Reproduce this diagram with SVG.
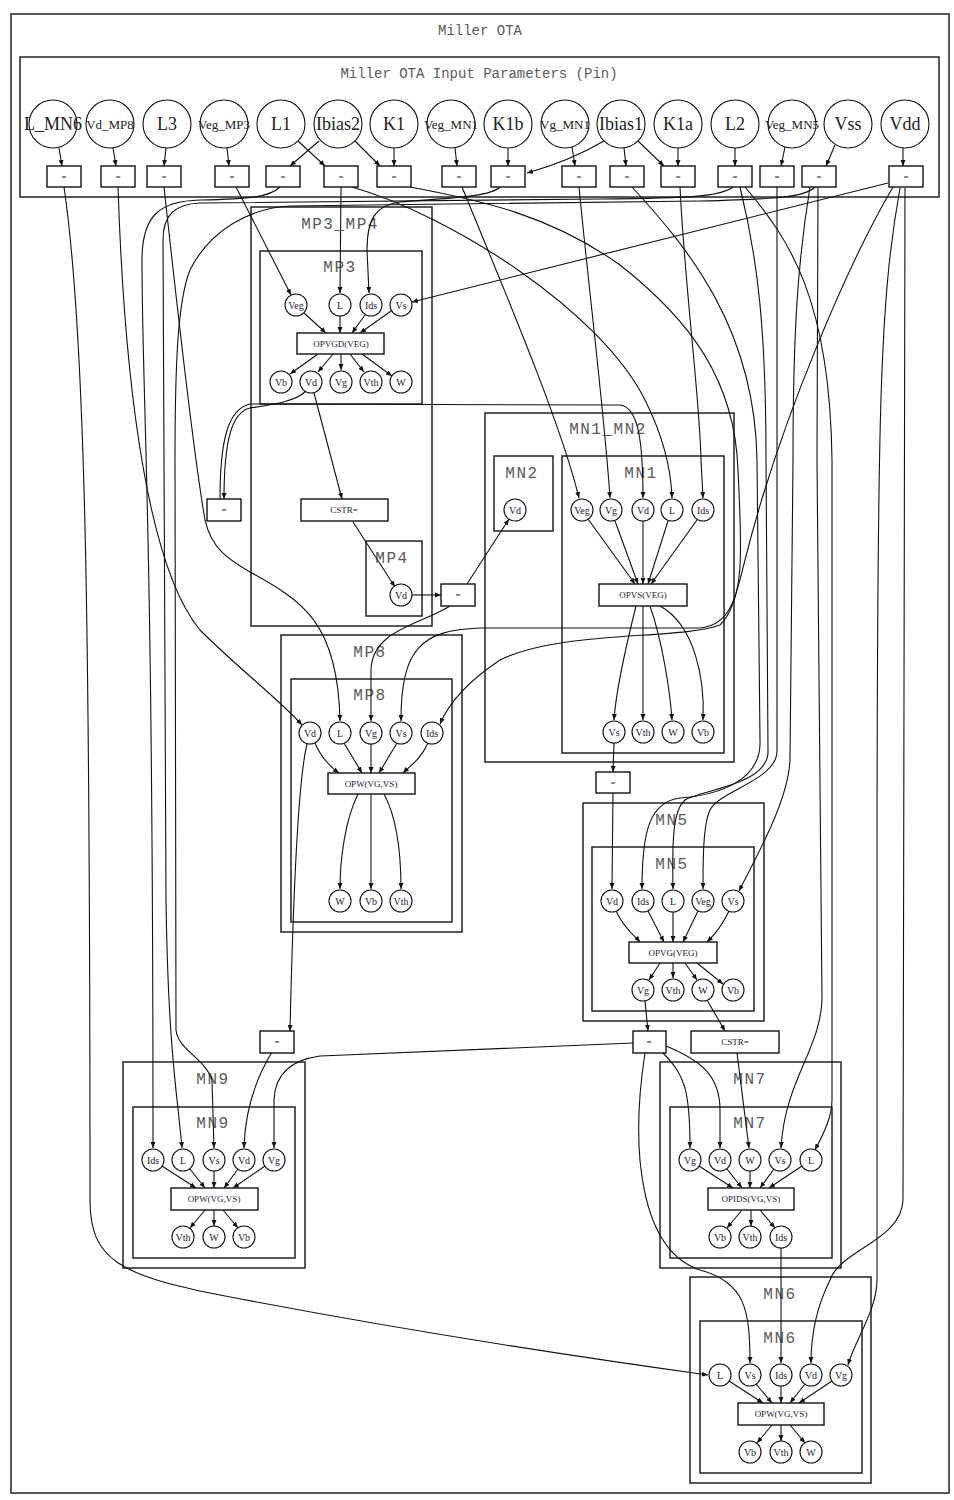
<svg xmlns="http://www.w3.org/2000/svg" width="954" height="1500" viewBox="0 0 954 1500">
<defs>
<marker id="a" markerWidth="7" markerHeight="6" refX="6" refY="3" orient="auto" markerUnits="userSpaceOnUse"><path d="M0,0.5 L6,3 L0,5.5 z" fill="#111"/></marker>
<style>
.cl{fill:none;stroke:#222;stroke-width:1.5}
.c{fill:#fff;stroke:#111;stroke-width:1.1}
.b{fill:#fff;stroke:#111;stroke-width:1.4}
.e{fill:none;stroke:#111;stroke-width:1.1;marker-end:url(#a)}
.t{font-family:"Liberation Mono",monospace;font-size:16px;fill:#5a5a5a;text-anchor:middle;letter-spacing:1.5px}
.tt{font-family:"Liberation Mono",monospace;font-size:14px;fill:#5a5a5a;text-anchor:middle}
.p{font-family:"Liberation Serif",serif;font-size:18px;fill:#222;text-anchor:middle}
.ps{font-family:"Liberation Serif",serif;font-size:13px;fill:#222;text-anchor:middle}
.s{font-family:"Liberation Serif",serif;font-size:10px;fill:#223;text-anchor:middle}
.bx{font-family:"Liberation Serif",serif;font-size:9px;fill:#223;text-anchor:middle}
</style>
</defs>
<rect x="0" y="0" width="954" height="1500" fill="#fff"/>
<rect class="cl" x="11" y="14" width="938" height="1479"/>
<text class="tt" x="480" y="35">Miller OTA</text>
<rect class="cl" x="20" y="57" width="919" height="140"/>
<text class="tt" x="479" y="78">Miller OTA Input Parameters (Pin)</text>

<g id="clusters">
<rect class="cl" x="251" y="207" width="181" height="419"/><text class="t" x="340" y="229">MP3_MP4</text>
<rect class="cl" x="260" y="251" width="162" height="153"/><text class="t" x="340" y="272">MP3</text>
<rect class="cl" x="366" y="541" width="56" height="75"/><text class="t" x="392" y="563">MP4</text>
<rect class="cl" x="485" y="413" width="249" height="349"/><text class="t" x="608" y="434">MN1_MN2</text>
<rect class="cl" x="494" y="456" width="59" height="75"/><text class="t" x="522" y="478">MN2</text>
<rect class="cl" x="562" y="456" width="162" height="297"/><text class="t" x="641" y="478">MN1</text>
<rect class="cl" x="281" y="635" width="181" height="297"/><text class="t" x="370" y="657">MP8</text>
<rect class="cl" x="291" y="679" width="161" height="243"/><text class="t" x="370" y="700">MP8</text>
<rect class="cl" x="583" y="803" width="181" height="218"/><text class="t" x="672" y="825">MN5</text>
<rect class="cl" x="592" y="847" width="162" height="164"/><text class="t" x="672" y="869">MN5</text>
<rect class="cl" x="123" y="1062" width="182" height="206"/><text class="t" x="213" y="1084">MN9</text>
<rect class="cl" x="133" y="1107" width="162" height="151"/><text class="t" x="213" y="1128">MN9</text>
<rect class="cl" x="660" y="1062" width="181" height="206"/><text class="t" x="750" y="1084">MN7</text>
<rect class="cl" x="670" y="1107" width="162" height="151"/><text class="t" x="750" y="1128">MN7</text>
<rect class="cl" x="690" y="1277" width="181" height="206"/><text class="t" x="780" y="1299">MN6</text>
<rect class="cl" x="700" y="1321" width="162" height="152"/><text class="t" x="780" y="1343">MN6</text>
</g>

<g id="connectors">
<path class="e" d="M59,148 L62,166"/>
<path class="e" d="M113,148 L116,166"/>
<path class="e" d="M166,148 L164,166"/>
<path class="e" d="M227,148 L229,166"/>
<path class="e" d="M319,141 L290,166"/>
<path class="e" d="M298,141 L325,166"/>
<path class="e" d="M355,141 L380,166"/>
<path class="e" d="M394,148 L394,166"/>
<path class="e" d="M455,148 L457,166"/>
<path class="e" d="M508,148 L508,166"/>
<path class="e" d="M604,141 C580,155 552,166 527,173"/>
<path class="e" d="M572,147 L575,166"/>
<path class="e" d="M624,148 L626,166"/>
<path class="e" d="M638,141 L664,166"/>
<path class="e" d="M678,148 L678,166"/>
<path class="e" d="M735,148 L735,166"/>
<path class="e" d="M785,147 L781,166"/>
<path class="e" d="M835,145 L826,166"/>
<path class="e" d="M903,148 L903,166"/>

<path class="e" d="M64,187 C85,330 90,600 90,1200 C90,1260 120,1275 220,1295 C400,1330 600,1360 708,1375"/>
<path class="e" d="M118,187 C125,400 150,570 200,630 C240,670 280,700 302,725"/>
<path class="e" d="M164,187 C185,380 198,480 205,520 C212,550 230,560 250,572 C300,600 338,620 340,721"/>
<path class="e" d="M236,187 L291,295"/>
<path class="e" d="M341,187 L340,293"/>
<path class="e" d="M352,187 C450,215 600,310 645,400 C660,430 671,465 672,498"/>
<path class="e" d="M500,187 C490,197 450,198 400,202 C375,205 367,220 367,250 L369,293"/>
<path class="e" d="M462,187 C500,280 560,420 579,498"/>
<path class="e" d="M579,187 C590,300 605,420 610,498"/>
<path class="e" d="M680,187 C685,290 700,400 701,460 L703,498"/>
<path class="e" d="M888,183 L412,302"/>
<path class="e" d="M280,187 C270,197 250,199 200,200 C160,201 142,215 142,260 C142,400 153,500 153,1148"/>
<path class="e" d="M733,187 C720,197 690,198 600,199 L200,203 C175,204 163,215 163,240 L166,900 C168,1050 178,1100 182,1148"/>
<path class="e" d="M815,187 C805,197 780,199 700,201 L290,206 C250,208 210,230 190,270 C178,300 175,360 175,460 L176,1030 C178,1050 205,1058 212,1080 L214,1148"/>
<path class="e" d="M410,187 C480,200 550,215 620,265 C690,320 735,380 738,470 C742,550 745,600 720,625 C680,640 560,630 500,660 C470,680 450,700 440,724"/>
<path class="e" d="M893,187 C850,260 780,420 745,560 C735,600 730,625 700,628 L480,628 C420,630 401,650 401,721"/>
<path class="e" d="M632,187 C690,250 755,330 757,460 L760,740 C762,780 720,795 680,798 C650,802 642,830 642,889"/>
<path class="e" d="M740,187 C758,260 766,330 766,460 L768,750 C770,785 700,790 685,800 C673,810 672,840 673,889"/>
<path class="e" d="M777,187 L777,750 C778,780 720,790 710,810 C703,825 703,860 703,889"/>
<path class="e" d="M810,187 C798,260 793,330 793,460 L790,760 C788,800 760,850 739,891"/>
<path class="e" d="M818,187 L817,460 L822,1000 C820,1050 785,1080 781,1148"/>
<path class="e" d="M745,187 C790,240 830,300 832,460 L832,1100 C832,1120 820,1140 815,1150"/>
<path class="e" d="M900,188 C880,300 877,400 877,900 L877,1280 C877,1310 855,1340 848,1365"/>
<path class="e" d="M905,188 L903,1200 C902,1240 840,1250 830,1280 C815,1310 811,1340 811,1363"/>

<path class="e" d="M304,313 L326,333"/>
<path class="e" d="M340,316 L340,333"/>
<path class="e" d="M365,315 L352,333"/>
<path class="e" d="M391,311 L360,333"/>
<path class="e" d="M318,354 L290,374"/>
<path class="e" d="M333,354 L318,372"/>
<path class="e" d="M341,354 L341,370"/>
<path class="e" d="M350,354 L364,372"/>
<path class="e" d="M362,354 L392,376"/>
<path class="e" d="M314,393 L342,499"/>
<path class="e" d="M353,522 L395,587"/>
<path class="e" d="M412,595 L441,595"/>
<path class="e" d="M467,584 L509,519"/>
<path class="e" d="M450,606 C420,625 372,630 371,670 L371,721"/>
<path class="e" d="M306,391 C295,402 270,405 250,408 C232,412 224,440 224,499"/>
<path class="e" d="M220,499 C220,440 228,409 250,404 L620,405 C638,407 643,440 643,498"/>

<path class="e" d="M588,519 L635,584"/>
<path class="e" d="M615,521 L638,584"/>
<path class="e" d="M643,521 L643,584"/>
<path class="e" d="M668,521 L648,584"/>
<path class="e" d="M697,520 L651,584"/>
<path class="e" d="M636,606 C625,650 616,690 614,720"/>
<path class="e" d="M643,606 L643,720"/>
<path class="e" d="M650,606 C662,640 670,690 672,720"/>
<path class="e" d="M660,606 C695,625 705,680 703,720"/>
<path class="e" d="M614,743 L613,772"/>
<path class="e" d="M613,793 L612,889"/>

<path class="e" d="M315,743 C322,760 332,768 339,773"/>
<path class="e" d="M344,743 L362,773"/>
<path class="e" d="M371,744 L371,773"/>
<path class="e" d="M397,743 L379,773"/>
<path class="e" d="M428,743 C420,760 410,766 403,773"/>
<path class="e" d="M358,794 C345,820 340,860 340,889"/>
<path class="e" d="M371,794 L371,889"/>
<path class="e" d="M384,794 C398,820 401,860 401,889"/>
<path class="e" d="M307,744 C298,780 293,900 290,1031"/>
<path class="e" d="M272,1052 C255,1080 245,1110 244,1148"/>

<path class="e" d="M616,911 C625,930 635,936 640,942"/>
<path class="e" d="M648,911 L664,942"/>
<path class="e" d="M673,912 L673,942"/>
<path class="e" d="M698,911 L683,942"/>
<path class="e" d="M729,911 C720,930 712,937 707,942"/>
<path class="e" d="M660,963 L649,980"/>
<path class="e" d="M673,963 L673,978"/>
<path class="e" d="M685,963 L697,980"/>
<path class="e" d="M697,963 L723,984"/>
<path class="e" d="M645,1001 L648,1031"/>
<path class="e" d="M707,1000 L725,1031"/>
<path class="e" d="M737,1053 L749,1148"/>
<path class="e" d="M633,1043 L320,1056 C290,1060 275,1075 274,1100 L274,1148"/>
<path class="e" d="M662,1052 C685,1075 690,1090 690,1148"/>
<path class="e" d="M666,1046 C700,1060 720,1075 720,1110 L720,1148"/>
<path class="e" d="M645,1053 C630,1150 640,1250 700,1270 C745,1282 750,1310 750,1363"/>

<path class="e" d="M162,1166 L196,1188"/>
<path class="e" d="M190,1169 L205,1188"/>
<path class="e" d="M214,1171 L214,1188"/>
<path class="e" d="M238,1169 L224,1188"/>
<path class="e" d="M265,1166 L233,1188"/>
<path class="e" d="M205,1210 L190,1228"/>
<path class="e" d="M214,1210 L214,1226"/>
<path class="e" d="M223,1210 L238,1228"/>

<path class="e" d="M699,1166 L733,1188"/>
<path class="e" d="M727,1169 L742,1188"/>
<path class="e" d="M750,1171 L750,1188"/>
<path class="e" d="M774,1169 L760,1188"/>
<path class="e" d="M802,1166 L769,1188"/>
<path class="e" d="M742,1210 L727,1228"/>
<path class="e" d="M751,1210 L751,1226"/>
<path class="e" d="M760,1210 L775,1228"/>
<path class="e" d="M781,1248 L781,1363"/>

<path class="e" d="M729,1381 L763,1403"/>
<path class="e" d="M756,1384 L772,1403"/>
<path class="e" d="M781,1386 L781,1403"/>
<path class="e" d="M805,1384 L790,1403"/>
<path class="e" d="M832,1381 L799,1403"/>
<path class="e" d="M772,1425 L757,1443"/>
<path class="e" d="M781,1425 L781,1441"/>
<path class="e" d="M790,1425 L805,1443"/>
</g>

<g id="p_L_MN6"><circle class="c" cx="53" cy="124" r="24"/><text class="p" x="53" y="130">L_MN6</text></g>
<g id="p_Vd_MP8"><circle class="c" cx="110" cy="124" r="24"/><text class="ps" x="110" y="129">Vd_MP8</text></g>
<g id="p_L3"><circle class="c" cx="167" cy="124" r="24"/><text class="p" x="167" y="130">L3</text></g>
<g id="p_Veg_MP3"><circle class="c" cx="224" cy="124" r="24"/><text class="ps" x="224" y="129">Veg_MP3</text></g>
<g id="p_L1"><circle class="c" cx="281" cy="124" r="24"/><text class="p" x="281" y="130">L1</text></g>
<g id="p_Ibias2"><circle class="c" cx="338" cy="124" r="24"/><text class="p" x="338" y="130">Ibias2</text></g>
<g id="p_K1"><circle class="c" cx="394" cy="124" r="24"/><text class="p" x="394" y="130">K1</text></g>
<g id="p_Veg_MN1"><circle class="c" cx="451" cy="124" r="24"/><text class="ps" x="451" y="129">Veg_MN1</text></g>
<g id="p_K1b"><circle class="c" cx="508" cy="124" r="24"/><text class="p" x="508" y="130">K1b</text></g>
<g id="p_Vg_MN1"><circle class="c" cx="565" cy="124" r="24"/><text class="ps" x="565" y="129">Vg_MN1</text></g>
<g id="p_Ibias1"><circle class="c" cx="621" cy="124" r="24"/><text class="p" x="621" y="130">Ibias1</text></g>
<g id="p_K1a"><circle class="c" cx="678" cy="124" r="24"/><text class="p" x="678" y="130">K1a</text></g>
<g id="p_L2"><circle class="c" cx="735" cy="124" r="24"/><text class="p" x="735" y="130">L2</text></g>
<g id="p_Veg_MN5"><circle class="c" cx="792" cy="124" r="24"/><text class="ps" x="792" y="129">Veg_MN5</text></g>
<g id="p_Vss"><circle class="c" cx="848" cy="124" r="24"/><text class="p" x="848" y="130">Vss</text></g>
<g id="p_Vdd"><circle class="c" cx="905" cy="124" r="24"/><text class="p" x="905" y="130">Vdd</text></g>

<g id="eq1"><rect class="b" x="47" y="166" width="34" height="21"/><text class="bx" x="64" y="180">=</text></g>
<g id="eq2"><rect class="b" x="101" y="166" width="34" height="21"/><text class="bx" x="118" y="180">=</text></g>
<g id="eq3"><rect class="b" x="147" y="166" width="34" height="21"/><text class="bx" x="164" y="180">=</text></g>
<g id="eq4"><rect class="b" x="215" y="166" width="34" height="21"/><text class="bx" x="232" y="180">=</text></g>
<g id="eq5"><rect class="b" x="266" y="166" width="34" height="21"/><text class="bx" x="283" y="180">=</text></g>
<g id="eq6"><rect class="b" x="324" y="166" width="34" height="21"/><text class="bx" x="341" y="180">=</text></g>
<g id="eq7"><rect class="b" x="377" y="166" width="34" height="21"/><text class="bx" x="394" y="180">=</text></g>
<g id="eq8"><rect class="b" x="442" y="166" width="34" height="21"/><text class="bx" x="459" y="180">=</text></g>
<g id="eq9"><rect class="b" x="491" y="166" width="34" height="21"/><text class="bx" x="508" y="180">=</text></g>
<g id="eq10"><rect class="b" x="562" y="166" width="34" height="21"/><text class="bx" x="579" y="180">=</text></g>
<g id="eq11"><rect class="b" x="610" y="166" width="34" height="21"/><text class="bx" x="627" y="180">=</text></g>
<g id="eq12"><rect class="b" x="661" y="166" width="34" height="21"/><text class="bx" x="678" y="180">=</text></g>
<g id="eq13"><rect class="b" x="718" y="166" width="34" height="21"/><text class="bx" x="735" y="180">=</text></g>
<g id="eq14"><rect class="b" x="760" y="166" width="34" height="21"/><text class="bx" x="777" y="180">=</text></g>
<g id="eq15"><rect class="b" x="802" y="166" width="34" height="21"/><text class="bx" x="819" y="180">=</text></g>
<g id="eq16"><rect class="b" x="889" y="166" width="34" height="21"/><text class="bx" x="906" y="180">=</text></g>

<g id="mp3_Veg"><circle class="c" cx="296" cy="305" r="11"/><text class="s" x="296" y="309">Veg</text></g>
<g id="mp3_L"><circle class="c" cx="340" cy="305" r="11"/><text class="s" x="340" y="309">L</text></g>
<g id="mp3_Ids"><circle class="c" cx="371" cy="305" r="11"/><text class="s" x="371" y="309">Ids</text></g>
<g id="mp3_Vs"><circle class="c" cx="401" cy="305" r="11"/><text class="s" x="401" y="309">Vs</text></g>
<g id="mp3_op"><rect class="b" x="297" y="333" width="87" height="21"/><text class="bx" x="341" y="347">OPVGD(VEG)</text></g>
<g id="mp3_Vb"><circle class="c" cx="281" cy="382" r="11"/><text class="s" x="281" y="386">Vb</text></g>
<g id="mp3_Vd"><circle class="c" cx="311" cy="382" r="11"/><text class="s" x="311" y="386">Vd</text></g>
<g id="mp3_Vg"><circle class="c" cx="341" cy="382" r="11"/><text class="s" x="341" y="386">Vg</text></g>
<g id="mp3_Vth"><circle class="c" cx="371" cy="382" r="11"/><text class="s" x="371" y="386">Vth</text></g>
<g id="mp3_W"><circle class="c" cx="401" cy="382" r="11"/><text class="s" x="401" y="386">W</text></g>
<g id="eq_mp3vd"><rect class="b" x="207" y="499" width="34" height="22"/><text class="bx" x="224" y="513">=</text></g>
<g id="cstr1"><rect class="b" x="301" y="499" width="87" height="22"/><text class="bx" x="344" y="513">CSTR=</text></g>
<g id="mp4_Vd"><circle class="c" cx="401" cy="595" r="11"/><text class="s" x="401" y="599">Vd</text></g>
<g id="eq_mp4vd"><rect class="b" x="441" y="584" width="34" height="22"/><text class="bx" x="458" y="598">=</text></g>

<g id="mn2_Vd"><circle class="c" cx="515" cy="510" r="11"/><text class="s" x="515" y="514">Vd</text></g>
<g id="mn1_Veg"><circle class="c" cx="582" cy="510" r="11"/><text class="s" x="582" y="514">Veg</text></g>
<g id="mn1_Vg"><circle class="c" cx="611" cy="510" r="11"/><text class="s" x="611" y="514">Vg</text></g>
<g id="mn1_Vd"><circle class="c" cx="643" cy="510" r="11"/><text class="s" x="643" y="514">Vd</text></g>
<g id="mn1_L"><circle class="c" cx="672" cy="510" r="11"/><text class="s" x="672" y="514">L</text></g>
<g id="mn1_Ids"><circle class="c" cx="703" cy="510" r="11"/><text class="s" x="703" y="514">Ids</text></g>
<g id="mn1_op"><rect class="b" x="599" y="584" width="88" height="22"/><text class="bx" x="643" y="598">OPVS(VEG)</text></g>
<g id="mn1_Vs"><circle class="c" cx="614" cy="732" r="11"/><text class="s" x="614" y="736">Vs</text></g>
<g id="mn1_Vth"><circle class="c" cx="643" cy="732" r="11"/><text class="s" x="643" y="736">Vth</text></g>
<g id="mn1_W"><circle class="c" cx="673" cy="732" r="11"/><text class="s" x="673" y="736">W</text></g>
<g id="mn1_Vb"><circle class="c" cx="703" cy="732" r="11"/><text class="s" x="703" y="736">Vb</text></g>
<g id="eq_mn1vs"><rect class="b" x="596" y="772" width="34" height="21"/><text class="bx" x="613" y="786">=</text></g>

<g id="mp8_Vd"><circle class="c" cx="310" cy="733" r="11"/><text class="s" x="310" y="737">Vd</text></g>
<g id="mp8_L"><circle class="c" cx="340" cy="733" r="11"/><text class="s" x="340" y="737">L</text></g>
<g id="mp8_Vg"><circle class="c" cx="371" cy="733" r="11"/><text class="s" x="371" y="737">Vg</text></g>
<g id="mp8_Vs"><circle class="c" cx="401" cy="733" r="11"/><text class="s" x="401" y="737">Vs</text></g>
<g id="mp8_Ids"><circle class="c" cx="432" cy="733" r="11"/><text class="s" x="432" y="737">Ids</text></g>
<g id="mp8_op"><rect class="b" x="328" y="773" width="87" height="21"/><text class="bx" x="371" y="787">OPW(VG,VS)</text></g>
<g id="mp8_W"><circle class="c" cx="340" cy="901" r="11"/><text class="s" x="340" y="905">W</text></g>
<g id="mp8_Vb"><circle class="c" cx="371" cy="901" r="11"/><text class="s" x="371" y="905">Vb</text></g>
<g id="mp8_Vth"><circle class="c" cx="401" cy="901" r="11"/><text class="s" x="401" y="905">Vth</text></g>

<g id="mn5_Vd"><circle class="c" cx="612" cy="901" r="11"/><text class="s" x="612" y="905">Vd</text></g>
<g id="mn5_Ids"><circle class="c" cx="643" cy="901" r="11"/><text class="s" x="643" y="905">Ids</text></g>
<g id="mn5_L"><circle class="c" cx="673" cy="901" r="11"/><text class="s" x="673" y="905">L</text></g>
<g id="mn5_Veg"><circle class="c" cx="703" cy="901" r="11"/><text class="s" x="703" y="905">Veg</text></g>
<g id="mn5_Vs"><circle class="c" cx="733" cy="901" r="11"/><text class="s" x="733" y="905">Vs</text></g>
<g id="mn5_op"><rect class="b" x="629" y="942" width="88" height="21"/><text class="bx" x="673" y="956">OPVG(VEG)</text></g>
<g id="mn5_Vg"><circle class="c" cx="643" cy="990" r="11"/><text class="s" x="643" y="994">Vg</text></g>
<g id="mn5_Vth"><circle class="c" cx="673" cy="990" r="11"/><text class="s" x="673" y="994">Vth</text></g>
<g id="mn5_W"><circle class="c" cx="703" cy="990" r="11"/><text class="s" x="703" y="994">W</text></g>
<g id="mn5_Vb"><circle class="c" cx="733" cy="990" r="11"/><text class="s" x="733" y="994">Vb</text></g>
<g id="eq_mn5vg"><rect class="b" x="633" y="1031" width="33" height="22"/><text class="bx" x="649" y="1045">=</text></g>
<g id="cstr2"><rect class="b" x="691" y="1031" width="88" height="22"/><text class="bx" x="735" y="1045">CSTR=</text></g>
<g id="eq_mp8vd"><rect class="b" x="260" y="1031" width="34" height="22"/><text class="bx" x="277" y="1045">=</text></g>

<g id="mn9_Ids"><circle class="c" cx="153" cy="1160" r="11"/><text class="s" x="153" y="1164">Ids</text></g>
<g id="mn9_L"><circle class="c" cx="183" cy="1160" r="11"/><text class="s" x="183" y="1164">L</text></g>
<g id="mn9_Vs"><circle class="c" cx="214" cy="1160" r="11"/><text class="s" x="214" y="1164">Vs</text></g>
<g id="mn9_Vd"><circle class="c" cx="244" cy="1160" r="11"/><text class="s" x="244" y="1164">Vd</text></g>
<g id="mn9_Vg"><circle class="c" cx="274" cy="1160" r="11"/><text class="s" x="274" y="1164">Vg</text></g>
<g id="mn9_op"><rect class="b" x="171" y="1188" width="87" height="22"/><text class="bx" x="214" y="1202">OPW(VG,VS)</text></g>
<g id="mn9_Vth"><circle class="c" cx="183" cy="1237" r="11"/><text class="s" x="183" y="1241">Vth</text></g>
<g id="mn9_W"><circle class="c" cx="214" cy="1237" r="11"/><text class="s" x="214" y="1241">W</text></g>
<g id="mn9_Vb"><circle class="c" cx="244" cy="1237" r="11"/><text class="s" x="244" y="1241">Vb</text></g>

<g id="mn7_Vg"><circle class="c" cx="690" cy="1160" r="11"/><text class="s" x="690" y="1164">Vg</text></g>
<g id="mn7_Vd"><circle class="c" cx="720" cy="1160" r="11"/><text class="s" x="720" y="1164">Vd</text></g>
<g id="mn7_W"><circle class="c" cx="750" cy="1160" r="11"/><text class="s" x="750" y="1164">W</text></g>
<g id="mn7_Vs"><circle class="c" cx="780" cy="1160" r="11"/><text class="s" x="780" y="1164">Vs</text></g>
<g id="mn7_L"><circle class="c" cx="811" cy="1160" r="11"/><text class="s" x="811" y="1164">L</text></g>
<g id="mn7_op"><rect class="b" x="708" y="1188" width="86" height="22"/><text class="bx" x="751" y="1202">OPIDS(VG,VS)</text></g>
<g id="mn7_Vb"><circle class="c" cx="720" cy="1237" r="11"/><text class="s" x="720" y="1241">Vb</text></g>
<g id="mn7_Vth"><circle class="c" cx="750" cy="1237" r="11"/><text class="s" x="750" y="1241">Vth</text></g>
<g id="mn7_Ids"><circle class="c" cx="781" cy="1237" r="11"/><text class="s" x="781" y="1241">Ids</text></g>

<g id="mn6_L"><circle class="c" cx="720" cy="1375" r="11"/><text class="s" x="720" y="1379">L</text></g>
<g id="mn6_Vs"><circle class="c" cx="750" cy="1375" r="11"/><text class="s" x="750" y="1379">Vs</text></g>
<g id="mn6_Ids"><circle class="c" cx="781" cy="1375" r="11"/><text class="s" x="781" y="1379">Ids</text></g>
<g id="mn6_Vd"><circle class="c" cx="811" cy="1375" r="11"/><text class="s" x="811" y="1379">Vd</text></g>
<g id="mn6_Vg"><circle class="c" cx="841" cy="1375" r="11"/><text class="s" x="841" y="1379">Vg</text></g>
<g id="mn6_op"><rect class="b" x="738" y="1403" width="86" height="22"/><text class="bx" x="781" y="1417">OPW(VG,VS)</text></g>
<g id="mn6_Vb"><circle class="c" cx="750" cy="1452" r="11"/><text class="s" x="750" y="1456">Vb</text></g>
<g id="mn6_Vth"><circle class="c" cx="781" cy="1452" r="11"/><text class="s" x="781" y="1456">Vth</text></g>
<g id="mn6_W"><circle class="c" cx="811" cy="1452" r="11"/><text class="s" x="811" y="1456">W</text></g>
</svg>
